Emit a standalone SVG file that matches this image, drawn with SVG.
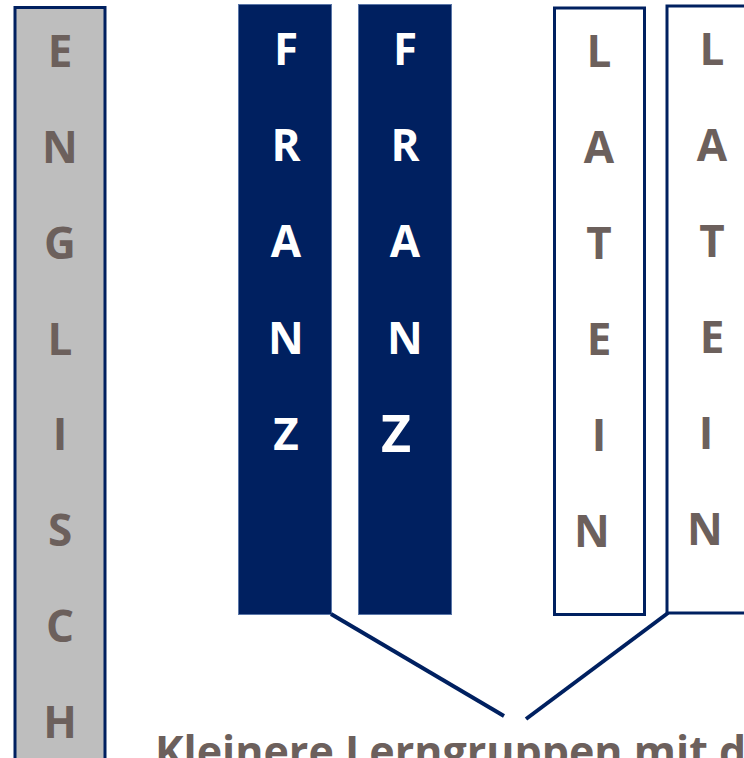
<svg xmlns="http://www.w3.org/2000/svg" width="744" height="758" viewBox="0 0 744 758">
<style>
.lt{font-family:"Open Sans","DejaVu Sans",sans-serif;font-weight:bold;font-size:44px;text-anchor:middle;fill:#6C605C}
.wt{font-family:"Open Sans","DejaVu Sans",sans-serif;font-weight:bold;font-size:44px;text-anchor:middle;fill:#FFFFFF}
.gray{fill:#BEBEBE;stroke:#002060;stroke-width:3}
.navy{fill:#002060;stroke:#5A76A8;stroke-width:1}
.white{fill:#FFFFFF;stroke:#002060;stroke-width:3}
.conn{stroke:#002060;stroke-width:4;fill:none}
.cap{font-family:"Open Sans","DejaVu Sans",sans-serif;font-weight:bold;font-size:43px;fill:#6C605C}
</style>
<rect width="744" height="758" fill="#FFFFFF"/>
<g id="englisch">
<rect class="gray" x="15" y="7.5" width="90" height="770"/>
<text class="lt" x="60" y="67">E</text>
<text class="lt" x="60" y="163">N</text>
<text class="lt" x="60" y="259">G</text>
<text class="lt" x="60" y="355">L</text>
<text class="lt" x="60" y="450">I</text>
<text class="lt" x="60" y="546">S</text>
<text class="lt" x="60" y="642">C</text>
<text class="lt" x="60" y="738">H</text>
</g>
<g id="franz1">
<rect class="navy" x="238.5" y="4.5" width="93" height="610"/>
<text class="wt" x="286" y="65">F</text>
<text class="wt" x="286" y="161">R</text>
<text class="wt" x="286" y="257">A</text>
<text class="wt" x="286" y="354">N</text>
<text class="wt" x="286" y="450">Z</text>
</g>
<g id="franz2">
<rect class="navy" x="358.5" y="4.5" width="93" height="610"/>
<text class="wt" x="405" y="65">F</text>
<text class="wt" x="405" y="161">R</text>
<text class="wt" x="405" y="257">A</text>
<text class="wt" x="405" y="354">N</text>
<text class="wt" x="396" y="452" style="font-size:52px">Z</text>
</g>
<g id="latein1">
<rect class="white" x="554.5" y="8" width="90" height="606.5"/>
<text class="lt" x="599" y="67">L</text>
<text class="lt" x="599" y="163">A</text>
<text class="lt" x="599" y="259">T</text>
<text class="lt" x="599" y="355">E</text>
<text class="lt" x="599" y="451">I</text>
<text class="lt" x="592" y="547">N</text>
</g>
<g id="latein2">
<rect class="white" x="667" y="6" width="90" height="607"/>
<text class="lt" x="712" y="65">L</text>
<text class="lt" x="712" y="161">A</text>
<text class="lt" x="712" y="257">T</text>
<text class="lt" x="712" y="353">E</text>
<text class="lt" x="706" y="449">I</text>
<text class="lt" x="705" y="545">N</text>
</g>
<g id="connectors">
<line class="conn" x1="331" y1="614" x2="504" y2="716"/>
<line class="conn" x1="668" y1="613" x2="526" y2="719"/>
</g>
<g id="caption">
<text class="cap" x="155" y="767">Kleinere Lerngruppen mit d</text>
</g>
</svg>
